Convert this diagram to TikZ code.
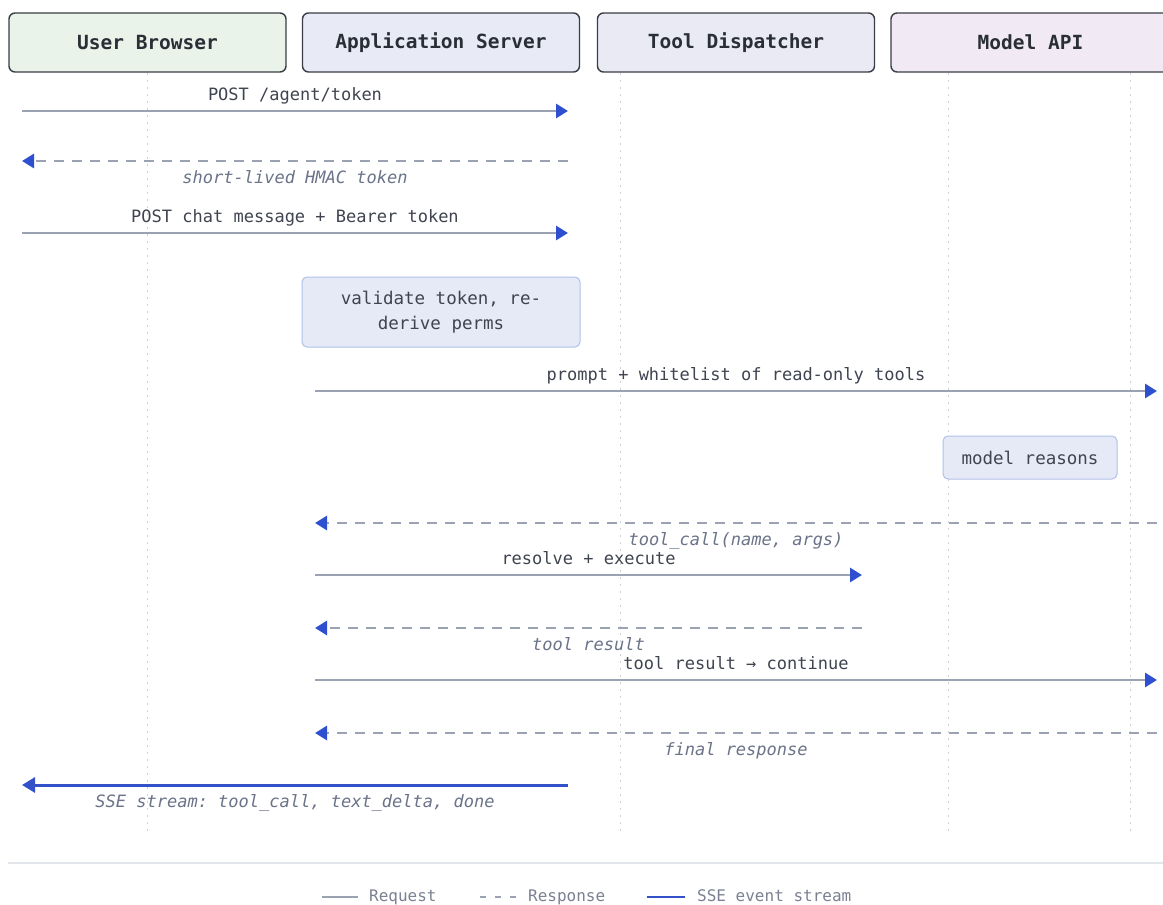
\documentclass[tikz,border=0pt]{standalone}
\usepackage{fontspec}
\setmonofont{DejaVu Sans Mono}
\usetikzlibrary{arrows.meta}

\definecolor{ubfill}{HTML}{EAF3EA}
\definecolor{asfill}{HTML}{E8EBF5}
\definecolor{tdfill}{HTML}{EAEAF4}
\definecolor{mafill}{HTML}{F1EAF5}
\definecolor{boxline}{HTML}{3A3D44}
\definecolor{headtext}{HTML}{2A2E36}
\definecolor{notefill}{HTML}{E6EAF6}
\definecolor{noteline}{HTML}{B2C0EA}
\definecolor{msgline}{HTML}{9BA3B3}
\definecolor{tipblue}{HTML}{2E4FD0}
\definecolor{sseblue}{HTML}{3351C9}
\definecolor{reqtext}{HTML}{3F4450}
\definecolor{restext}{HTML}{6B7389}
\definecolor{lifegray}{HTML}{CDD1D8}
\definecolor{sepgray}{HTML}{E2E5EA}
\definecolor{legtext}{HTML}{7B8192}

\begin{document}
\begin{tikzpicture}[
  x=1pt, y=-1pt,
  actor/.style={draw=boxline, line width=1.4pt, rounded corners=6pt,
    minimum width=277pt, minimum height=59pt, inner sep=0pt,
    font=\ttfamily\bfseries\fontsize{19.5}{22}\selectfont, text=headtext},
  note/.style={draw=noteline, fill=notefill, line width=1pt, rounded corners=5pt,
    inner sep=0pt, align=center, text=reqtext,
    font=\ttfamily\fontsize{17.5}{25}\selectfont},
  lifeline/.style={draw=lifegray, line width=1pt, dash pattern=on 2pt off 5pt},
  tip/.style={-{Triangle[length=12pt,width=14pt,color=tipblue]}},
  req/.style={draw=msgline, line width=2.8pt, tip},
  res/.style={draw=msgline, line width=2.8pt, dash pattern=on 10pt off 8pt, tip},
  sse/.style={draw=sseblue, line width=3pt, -{Triangle[length=13pt,width=15pt,color=sseblue]}},
  lbl/.style={midway, inner sep=0pt, text height=0.72em, text depth=0.2em,
    font=\ttfamily\fontsize{17}{20}\selectfont},
  reqlbl/.style={lbl, yshift=13pt, text=reqtext},
  reslbl/.style={lbl, yshift=-19.5pt, text=restext, font=\ttfamily\itshape\fontsize{17}{20}\selectfont},
  legline/.style={line width=2.6pt},
  legtxt/.style={anchor=west, inner sep=0pt, text=legtext, text height=0.72em, text depth=0.2em,
    font=\ttfamily\fontsize{16}{18}\selectfont},
]
\useasboundingbox (0,0) rectangle (1163,905);
\fill[white] (0,0) rectangle (1163,905);

% participant headers
\node[actor, fill=ubfill] (ub) at (147.5,42.5) {User Browser};
\node[actor, fill=asfill] (as) at (441,42.5) {Application Server};
\node[actor, fill=tdfill] (td) at (736,42.5) {Tool Dispatcher};
\node[actor, fill=mafill, minimum width=279pt] (ma) at (1030.5,42.5) {Model API};

% lifelines
\foreach \lx/\nm in {147/l1, 620/l2, 948/l3, 1130/l4}{
  \coordinate (\nm t) at (\lx,73);
  \coordinate (\nm b) at (\lx,836);
  \draw[lifeline] (\nm t) -- (\nm b);
}

% message end points
\coordinate (m1a) at (22,111);   \coordinate (m1b) at (568,111);
\coordinate (m2a) at (568,161);  \coordinate (m2b) at (22,161);
\coordinate (m3a) at (22,233);   \coordinate (m3b) at (568,233);
\coordinate (m4a) at (315,391);  \coordinate (m4b) at (1157,391);
\coordinate (m5a) at (1157,523); \coordinate (m5b) at (315,523);
\coordinate (m6a) at (315,575);  \coordinate (m6b) at (862,575);
\coordinate (m7a) at (862,628);  \coordinate (m7b) at (315,628);
\coordinate (m8a) at (315,680);  \coordinate (m8b) at (1157,680);
\coordinate (m9a) at (1157,733); \coordinate (m9b) at (315,733);
\coordinate (m10a) at (568,785); \coordinate (m10b) at (22,785);

% messages
\draw[req] (m1a) -- node[reqlbl] {POST /agent/token} (m1b);
\draw[res] (m2a) -- node[reslbl] {short-lived HMAC token} (m2b);
\draw[req] (m3a) -- node[reqlbl] {POST chat message + Bearer token} (m3b);

\node[note, minimum width=278pt, minimum height=70pt] (n1) at (441,312)
  {validate token, re-\\derive perms};

\draw[req] (m4a) -- node[reqlbl] {prompt + whitelist of read-only tools} (m4b);

\node[note, minimum width=174pt, minimum height=43pt] (n2) at (1030,457.5) {model reasons};

\draw[res] (m5a) -- node[reslbl] {tool\_call(name, args)} (m5b);
\draw[req] (m6a) -- node[reqlbl] {resolve + execute} (m6b);
\draw[res] (m7a) -- node[reslbl] {tool result} (m7b);
\draw[req] (m8a) -- node[reqlbl] {tool result → continue} (m8b);
\draw[res] (m9a) -- node[reslbl] {final response} (m9b);
\draw[sse] (m10a) -- node[reslbl] {SSE stream: tool\_call, text\_delta, done} (m10b);

% separator
\coordinate (sepa) at (8,863);
\coordinate (sepb) at (1163,863);
\draw[draw=sepgray, line width=1.5pt] (sepa) -- (sepb);

% legend
\coordinate (lg1a) at (322,897); \coordinate (lg1b) at (358,897);
\coordinate (lg2a) at (480,897); \coordinate (lg2b) at (520,897);
\coordinate (lg3a) at (647,897); \coordinate (lg3b) at (685,897);
\draw[legline, draw=msgline] (lg1a) -- (lg1b);
\node[legtxt] (lt1) at (369,899) {Request};
\draw[legline, draw=msgline, dash pattern=on 6pt off 9pt] (lg2a) -- (lg2b);
\node[legtxt] (lt2) at (528,899) {Response};
\draw[legline, draw=sseblue, line width=2.8pt] (lg3a) -- (lg3b);
\node[legtxt] (lt3) at (697,899) {SSE event stream};
\end{tikzpicture}
\end{document}
